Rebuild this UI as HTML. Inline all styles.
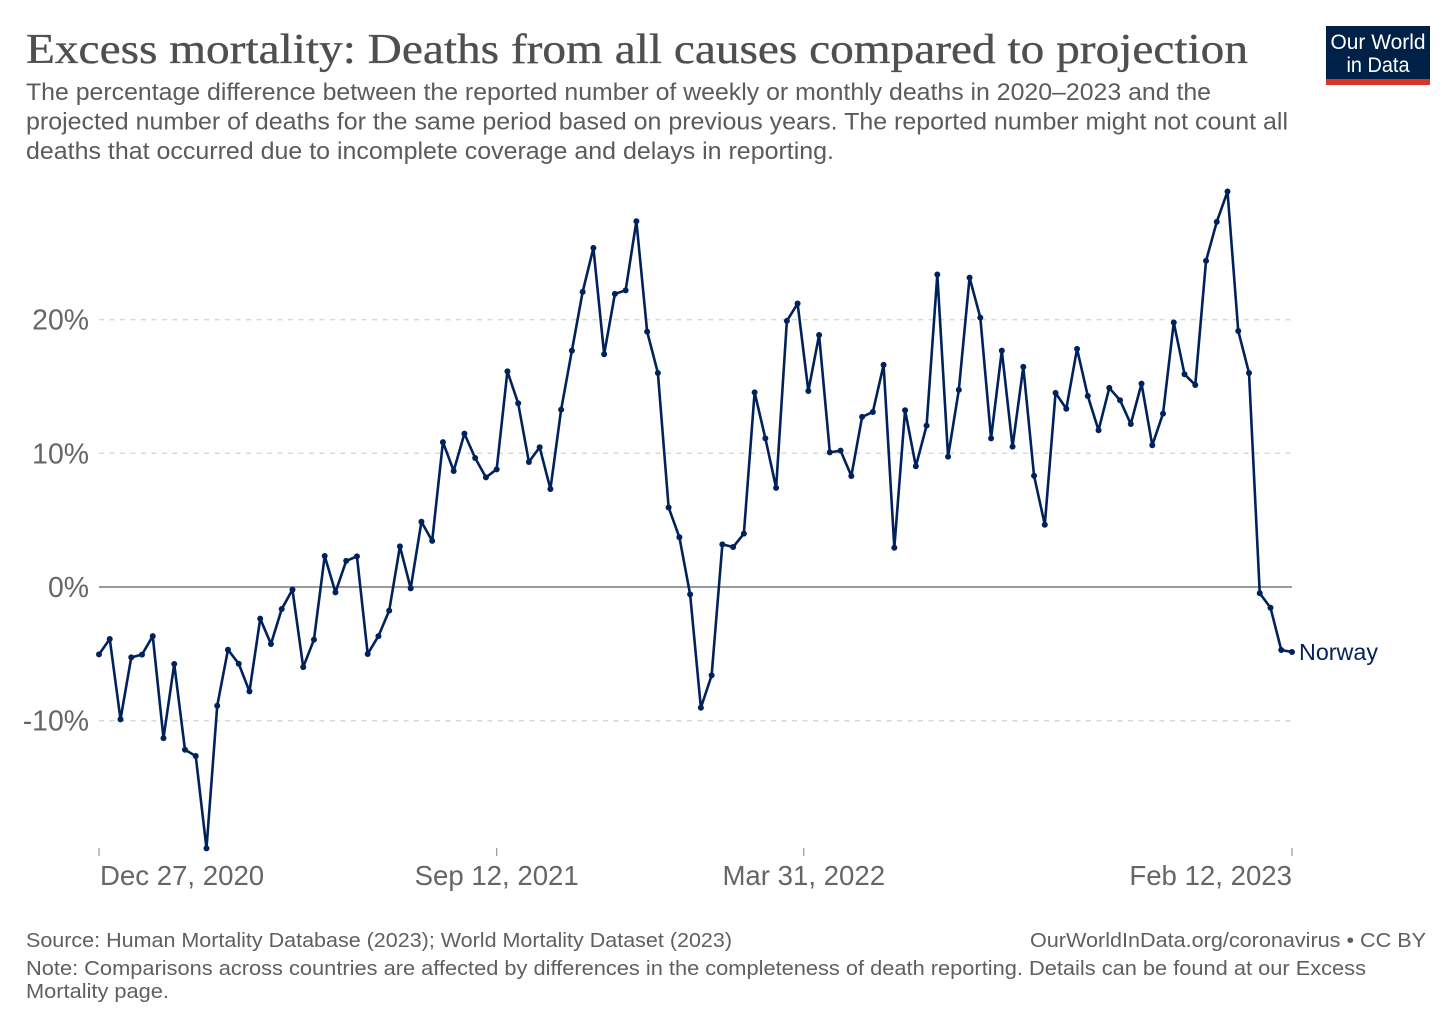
<!DOCTYPE html>
<html lang="en">
<head>
<meta charset="utf-8">
<title>Excess mortality: Deaths from all causes compared to projection</title>
<style>
html,body{margin:0;padding:0;background:#fff;}
svg{display:block;font-family:"Liberation Sans",Arial,sans-serif;}
</style>
</head>
<body>
<svg id="chart" xmlns="http://www.w3.org/2000/svg" width="1456" height="1028" viewBox="0 0 1456 1028">
  <rect x="0" y="0" width="1456" height="1028" fill="#ffffff"/>
  <text x="26" y="63" font-family="'Liberation Serif',serif" font-size="42" fill="#4f4f4f" stroke="#4f4f4f" stroke-width="0.35" textLength="1222" lengthAdjust="spacingAndGlyphs">Excess mortality: Deaths from all causes compared to projection</text>
  <g font-size="24.3" fill="#5b5b5b">
    <text x="26" y="100" textLength="1185" lengthAdjust="spacingAndGlyphs">The percentage difference between the reported number of weekly or monthly deaths in 2020–2023 and the</text>
    <text x="26" y="129.5" textLength="1262" lengthAdjust="spacingAndGlyphs">projected number of deaths for the same period based on previous years. The reported number might not count all</text>
    <text x="26" y="159" textLength="808" lengthAdjust="spacingAndGlyphs">deaths that occurred due to incomplete coverage and delays in reporting.</text>
  </g>
  <g>
    <rect x="1326" y="26" width="104" height="59" fill="#002147"/>
    <rect x="1326" y="79" width="104" height="6" fill="#dc3326"/>
    <text x="1378" y="49" font-size="21.5" fill="#ffffff" text-anchor="middle" textLength="95" lengthAdjust="spacingAndGlyphs">Our World</text>
    <text x="1378" y="72" font-size="21.5" fill="#ffffff" text-anchor="middle" textLength="63" lengthAdjust="spacingAndGlyphs">in Data</text>
  </g>
  <g id="y-axis"></g>
  <g id="x-axis"></g>
  <g id="series"></g>
  <g font-size="20.6" fill="#5f5f5f">
    <text x="26" y="947" textLength="706" lengthAdjust="spacingAndGlyphs">Source: Human Mortality Database (2023); World Mortality Dataset (2023)</text>
    <text x="1426" y="947" text-anchor="end" textLength="396" lengthAdjust="spacingAndGlyphs">OurWorldInData.org/coronavirus • CC BY</text>
    <text x="26" y="975" textLength="1340" lengthAdjust="spacingAndGlyphs">Note: Comparisons across countries are affected by differences in the completeness of death reporting. Details can be found at our Excess</text>
    <text x="26" y="998" textLength="143" lengthAdjust="spacingAndGlyphs">Mortality page.</text>
  </g>
</svg>
<script>
const seriesName = "Norway";
const startDate = "2020-12-27";
const endDate = "2023-02-12";
const stepDays = 7;
const norwayValues = [
  -5.04,-3.89,-9.9,-5.26,-5.06,-3.67,-11.3,-5.76,-12.17,-12.64,
  -19.55,-8.88,-4.69,-5.74,-7.81,-2.37,-4.26,-1.65,-0.2,-5.99,
  -3.94,2.32,-0.4,1.95,2.29,-5.01,-3.67,-1.77,3.04,-0.1,
  4.88,3.45,10.84,8.68,11.47,9.65,8.2,8.8,16.13,13.74,
  9.35,10.45,7.33,13.27,17.68,22.07,25.36,17.41,21.92,22.19,
  27.36,19.1,16.01,5.95,3.72,-0.55,-9.03,-6.61,3.19,2.99,
  3.99,14.56,11.12,7.41,19.9,21.2,14.66,18.85,10.07,10.2,
  8.3,12.72,13.09,16.61,2.94,13.22,9.03,12.07,23.37,9.75,
  14.74,23.14,20.15,11.12,17.68,10.5,16.46,8.32,4.66,14.52,
  13.33,17.81,14.29,11.72,14.89,13.97,12.19,15.21,10.6,12.97,
  19.78,15.91,15.11,24.39,27.31,29.58,19.15,16.01,-0.47,-1.55,
  -4.71,-4.86
];
const yTickValues = [-10,0,10,20];
const yTickLabels = ["-10%","0%","10%","20%"];
const xTickDates = ["2020-12-27","2021-09-12","2022-03-31","2023-02-12"];
const xTickLabels = ["Dec 27, 2020","Sep 12, 2021","Mar 31, 2022","Feb 12, 2023"];

const NS = "http://www.w3.org/2000/svg";
const plotLeft = 99, plotRight = 1292, plotBottom = 848;
const zeroY = 587, pxPerPercent = 13.37;
const DAY = 86400000;
const t0 = Date.parse(startDate), t1 = Date.parse(endDate);
function xScale(t){ return plotLeft + (t - t0) / (t1 - t0) * (plotRight - plotLeft); }
function yScale(v){ return zeroY - v * pxPerPercent; }
function make(tag, attrs, parent){
  const el = document.createElementNS(NS, tag);
  for (const k in attrs) el.setAttribute(k, attrs[k]);
  parent.appendChild(el);
  return el;
}

const yAxis = document.getElementById("y-axis");
yTickValues.forEach(function(v, i){
  const y = yScale(v);
  const line = make("line", {x1: plotLeft, x2: plotRight, y1: y, y2: y,
    stroke: v === 0 ? "#8c8c8c" : "#d8d8d8",
    "stroke-width": v === 0 ? 1.7 : 1.5,
    "stroke-dasharray": v === 0 ? "none" : "5,5.5"}, yAxis);
  
  
  const label = make("text", {x: 89, y: y + 10, "text-anchor": "end", "font-size": 28.4, fill: "#666666"}, yAxis);
  label.textContent = yTickLabels[i];
  
  
});

const xAxis = document.getElementById("x-axis");
xTickDates.forEach(function(d, i){
  const x = xScale(Date.parse(d));
  const tick = make("line", {x1: x, x2: x, y1: plotBottom, y2: plotBottom + 8, stroke: "#999999", "stroke-width": 1.2}, xAxis);
  
  
  const first = i === 0, last = i === xTickDates.length - 1;
  const label = make("text", {x: first ? x + 1 : x, y: 885,
    "text-anchor": first ? "start" : (last ? "end" : "middle"),
    "font-size": 27.6, fill: "#666666"}, xAxis);
  label.textContent = xTickLabels[i];
  
  
});

const seriesGroup = document.getElementById("series");
const points = norwayValues.map(function(v, i){
  return [xScale(t0 + i * stepDays * DAY), yScale(v)];
});
const path = make("path", {
  d: points.map(function(p, i){ return (i ? "L" : "M") + p[0].toFixed(2) + " " + p[1].toFixed(2); }).join(""),
  fill: "none", stroke: "#00215b", "stroke-width": 2.6, "stroke-linejoin": "round"}, seriesGroup);


points.forEach(function(p){
  const dot = make("circle", {cx: p[0], cy: p[1], r: 3, fill: "#00215b"}, seriesGroup);
  
  
});
const lastPoint = points[points.length - 1];
const endLabel = make("text", {x: lastPoint[0] + 7, y: lastPoint[1] + 8, "font-size": 23.3, fill: "#00215b"}, seriesGroup);
endLabel.textContent = seriesName;


</script>
</body>
</html>
